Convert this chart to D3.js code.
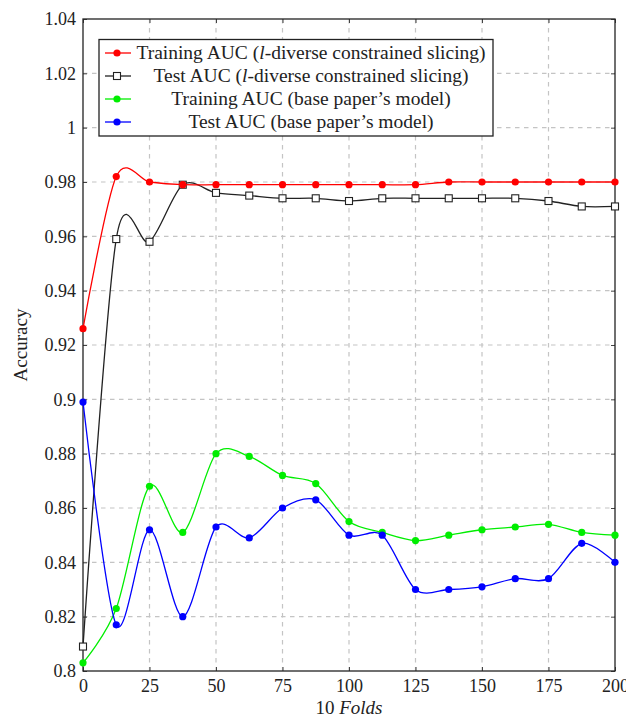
<!DOCTYPE html>
<html><head><meta charset="utf-8">
<script src="https://cdn.jsdelivr.net/npm/d3@7"></script>
<style>body{margin:0;background:#fff;} svg{display:block;}</style>
</head><body>
<svg id="chart" width="626" height="718"></svg>
<script>
const folds = [0,12.5,25,37.5,50,62.5,75,87.5,100,112.5,125,137.5,150,162.5,175,187.5,200];
const trainOurs = [0.926,0.982,0.980,0.979,0.979,0.979,0.979,0.979,0.979,0.979,0.979,0.980,0.980,0.980,0.980,0.980,0.980];
const testOurs  = [0.809,0.959,0.958,0.979,0.976,0.975,0.974,0.974,0.973,0.974,0.974,0.974,0.974,0.974,0.973,0.971,0.971];
const trainBase = [0.803,0.823,0.868,0.851,0.880,0.879,0.872,0.869,0.855,0.851,0.848,0.850,0.852,0.853,0.854,0.851,0.850];
const testBase  = [0.899,0.817,0.852,0.820,0.853,0.849,0.860,0.863,0.850,0.850,0.830,0.830,0.831,0.834,0.834,0.847,0.840];
const xTicks = [0,25,50,75,100,125,150,175,200];
const yTicks = [0.8,0.82,0.84,0.86,0.88,0.9,0.92,0.94,0.96,0.98,1,1.02,1.04];
const seriesNames = ["Training AUC (", "Test AUC (", "Training AUC (base paper\u2019s model)", "Test AUC (base paper\u2019s model)"];

const svg = d3.select("#chart");
const L=83, R=615, T=19, B=671;
const x = d3.scaleLinear().domain([0,200]).range([L,R]);
const y = d3.scaleLinear().domain([0.8,1.04]).range([B,T]);
const font = "'Liberation Serif', 'Times New Roman', serif";

// grid
const g = svg.append("g");
g.selectAll(".gx").data(xTicks.slice(1,-1)).join("line")
  .attr("x1",d=>x(d)).attr("x2",d=>x(d)).attr("y1",T).attr("y2",B)
  .attr("stroke","#c4c4c4").attr("stroke-width",1.2).attr("stroke-dasharray","4.5,4.5");
g.selectAll(".gy").data(yTicks.slice(1,-1)).join("line")
  .attr("x1",L).attr("x2",R).attr("y1",d=>y(d)).attr("y2",d=>y(d))
  .attr("stroke","#c4c4c4").attr("stroke-width",1.2).attr("stroke-dasharray","4.5,4.5");

// axes with ticks
const fmt = d => d3.format("")(+d.toFixed(2));
svg.append("g").attr("transform",`translate(0,${B})`)
  .call(d3.axisBottom(x).tickValues(xTicks).tickSizeInner(-4).tickSizeOuter(0).tickPadding(8))
  .call(a=>{a.select(".domain").remove(); a.selectAll("line").attr("stroke","#444");
    a.selectAll("text").attr("font-family",font).attr("font-size",18).attr("fill","#222");});
svg.append("g").attr("transform",`translate(${L},0)`)
  .call(d3.axisLeft(y).tickValues(yTicks).tickFormat(fmt).tickSizeInner(-4).tickSizeOuter(0).tickPadding(7))
  .call(a=>{a.select(".domain").remove(); a.selectAll("line").attr("stroke","#444");
    a.selectAll("text").attr("font-family",font).attr("font-size",18).attr("fill","#222");});
svg.append("g").attr("transform",`translate(${R},0)`)
  .call(d3.axisRight(y).tickValues(yTicks).tickFormat("").tickSizeInner(-4).tickSizeOuter(0))
  .call(a=>{a.select(".domain").remove(); a.selectAll("line").attr("stroke","#444");});
svg.append("g").attr("transform",`translate(0,${T})`)
  .call(d3.axisTop(x).tickValues(xTicks).tickFormat("").tickSizeInner(-4).tickSizeOuter(0))
  .call(a=>{a.select(".domain").remove(); a.selectAll("line").attr("stroke","#444");});
svg.append("rect").attr("x",L).attr("y",T).attr("width",R-L).attr("height",B-T)
  .attr("fill","none").attr("stroke","#222").attr("stroke-width",1.3);

// series
const curve = d3.curveCardinal.tension(0.1);
const line = d3.line().x(d=>x(d[0])).y(d=>y(d[1])).curve(curve);
const series = [
  {vals:testOurs, color:"#222", mark:"square"},
  {vals:trainOurs, color:"#ff0000", mark:"circle"},
  {vals:trainBase, color:"#00ee00", mark:"circle"},
  {vals:testBase, color:"#0000ff", mark:"circle"}
];
series.forEach(s=>{
  const pts = folds.map((f,i)=>[f,s.vals[i]]);
  svg.append("path").attr("d",line(pts)).attr("fill","none").attr("stroke",s.color).attr("stroke-width",1.3);
  if(s.mark==="circle"){
    svg.append("g").selectAll("circle").data(pts).join("circle")
      .attr("cx",d=>x(d[0])).attr("cy",d=>y(d[1])).attr("r",3.6).attr("fill",s.color);
  } else {
    svg.append("g").selectAll("rect").data(pts).join("rect")
      .attr("x",d=>x(d[0])-3.5).attr("y",d=>y(d[1])-3.5).attr("width",7).attr("height",7)
      .attr("fill","#fff").attr("stroke",s.color).attr("stroke-width",1.1);
  }
});

// legend
const lg = svg.append("g");
lg.append("rect").attr("x",99).attr("y",39.5).attr("width",394).attr("height",96.5)
  .attr("fill","#fff").attr("stroke","#222").attr("stroke-width",1.3);
const legendItems = [
  {color:"#ff0000", mark:"circle", name:seriesNames[0], ital:true},
  {color:"#222", mark:"square", name:seriesNames[1], ital:true},
  {color:"#00ee00", mark:"circle", name:seriesNames[2], ital:false},
  {color:"#0000ff", mark:"circle", name:seriesNames[3], ital:false}
];
legendItems.forEach((it,i)=>{
  const cy = 53 + i*23;
  lg.append("line").attr("x1",105).attr("x2",131).attr("y1",cy).attr("y2",cy).attr("stroke",it.color).attr("stroke-width",1.3);
  if(it.mark==="circle") lg.append("circle").attr("cx",117).attr("cy",cy).attr("r",3.6).attr("fill",it.color);
  else lg.append("rect").attr("x",113.5).attr("y",cy-3.5).attr("width",7).attr("height",7).attr("fill","#fff").attr("stroke",it.color).attr("stroke-width",1.1);
  const t = lg.append("text").attr("x",311).attr("y",cy+6).attr("text-anchor","middle")
    .attr("font-family",font).attr("font-size",19.5).attr("fill","#222");
  if(it.ital){
    t.append("tspan").text(it.name);
    t.append("tspan").attr("font-style","italic").text("l");
    t.append("tspan").text("-diverse constrained slicing)");
  } else t.text(it.name);
});

// axis labels
svg.append("text").attr("transform","translate(27,345) rotate(-90)").attr("text-anchor","middle")
  .attr("font-family",font).attr("font-size",19).attr("fill","#222").text("Accuracy");
const xl = svg.append("text").attr("x",349).attr("y",714).attr("text-anchor","middle")
  .attr("font-family",font).attr("font-size",19).attr("fill","#222");
xl.append("tspan").text("10 ");
xl.append("tspan").attr("font-style","italic").text("Folds");
</script>
</body></html>
